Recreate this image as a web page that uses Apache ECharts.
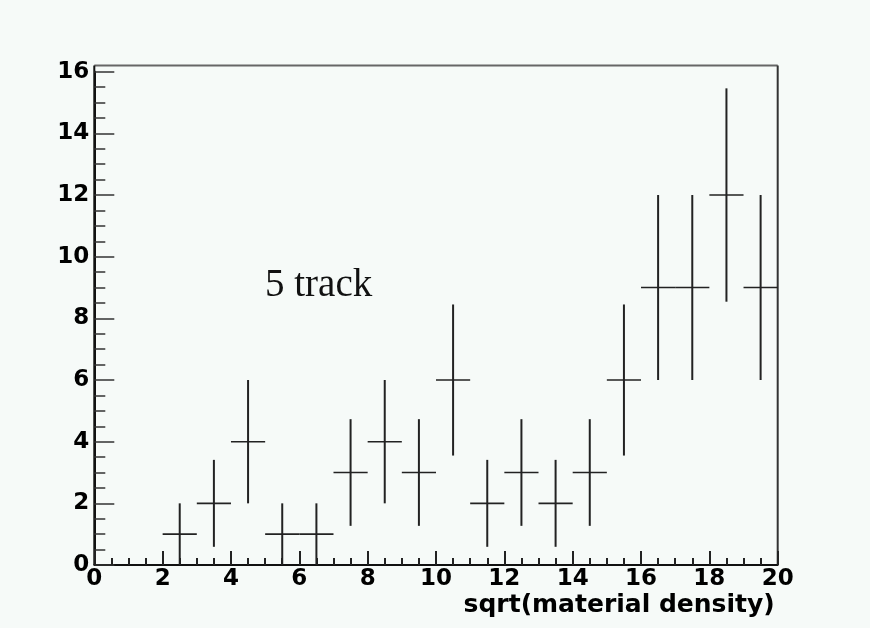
<!DOCTYPE html>
<html>
<head>
<meta charset="utf-8">
<title>5 track</title>
<script src="https://cdn.jsdelivr.net/npm/echarts@6/dist/echarts.min.js"></script>
<style>
  html, body { margin: 0; padding: 0; background: #f6faf8; }
  #chart { width: 870px; height: 628px; }
</style>
</head>
<body>
<div id="chart"></div>
<script>
// Histogram bins (lower edges, width 1) with counts and their errors
const binLow  = [0, 1, 2, 3, 4, 5, 6, 7, 8, 9, 10, 11, 12, 13, 14, 15, 16, 17, 18, 19];
const counts  = [0, 0, 1, 2, 4, 1, 1, 3, 4, 3, 6, 2, 3, 2, 3, 6, 9, 9, 12, 9];
const errors  = [0, 0, 1, 1.41, 2, 1, 1, 1.73, 2, 1.73, 2.45, 1.41, 1.73, 1.41, 1.73, 2.45, 3, 3, 3.46, 3];
const binWidth = 1;

const xTicks = [0, 2, 4, 6, 8, 10, 12, 14, 16, 18, 20];
const yTicks = [0, 2, 4, 6, 8, 10, 12, 14, 16];
const yFrameTop = 16.2;

const xTitle = 'sqrt(material density)';
const noteText = '5 track';

// empty bins are not drawn
const histData = [];
binLow.forEach(function (lo, i) {
  if (counts[i] > 0) histData.push([lo, lo + binWidth, counts[i], errors[i]]);
});

const tickFont = { fontFamily: 'DejaVu Sans', fontWeight: 'bold', fontSize: 23, color: '#000' };

const chart = echarts.init(document.getElementById('chart'), null, { renderer: 'canvas' });

chart.setOption({
  backgroundColor: '#f6faf8',
  animation: false,
  grid: { left: 94.3, right: 92.3, top: 71.7, bottom: 63, containLabel: false },
  xAxis: {
    type: 'value',
    min: xTicks[0],
    max: xTicks[xTicks.length - 1],
    interval: xTicks[1] - xTicks[0],
    name: xTitle,
    nameLocation: 'end',
    nameGap: -3,
    nameTextStyle: {
      fontFamily: 'DejaVu Sans', fontWeight: 'bold', fontSize: 25, color: '#000',
      align: 'right', verticalAlign: 'top', padding: [28, 0, 0, 0]
    },
    axisLine: { lineStyle: { color: '#111', width: 2 } },
    axisTick: { inside: true, length: 14, lineStyle: { color: '#222', width: 2 } },
    minorTick: { show: true, splitNumber: 4, length: 7, lineStyle: { color: '#222', width: 2 } },
    axisLabel: Object.assign({ margin: 3 }, tickFont),
    splitLine: { show: false }
  },
  yAxis: {
    type: 'value',
    min: yTicks[0],
    max: yTicks[yTicks.length - 1],
    interval: yTicks[1] - yTicks[0],
    axisLine: { show: true, lineStyle: { color: '#111', width: 2 } },
    axisTick: { show: true, inside: true, length: 20, lineStyle: { color: '#333', width: 1.5 } },
    minorTick: { show: true, splitNumber: 4, length: 11, lineStyle: { color: '#333', width: 1.5 } },
    axisLabel: Object.assign({ margin: 5 }, tickFont),
    splitLine: { show: false }
  },
  series: [{
    type: 'custom',
    data: histData,
    encode: { x: [0, 1], y: 2 },
    renderItem: function (params, api) {
      const lo = api.value(0), hi = api.value(1), v = api.value(2), e = api.value(3);
      const mid = (lo + hi) / 2;
      const pL = api.coord([lo, v]);
      const pR = api.coord([hi, v]);
      const pB = api.coord([mid, v - e]);
      const pT = api.coord([mid, v + e]);
      return {
        type: 'group',
        children: [
          { type: 'line', shape: { x1: pL[0], y1: pL[1], x2: pR[0], y2: pR[1] },
            style: { stroke: '#222', lineWidth: 1.6 } },
          { type: 'line', shape: { x1: pB[0], y1: pB[1], x2: pT[0], y2: pT[1] },
            style: { stroke: '#222', lineWidth: 2 } }
        ]
      };
    }
  }]
});

// frame: top and right edges of the pad, and the label inside the plot
const pTL = chart.convertToPixel({ gridIndex: 0 }, [xTicks[0], yFrameTop]);
const pBR = chart.convertToPixel({ gridIndex: 0 }, [xTicks[xTicks.length - 1], yTicks[0]]);
chart.setOption({
  graphic: [
    { type: 'line', shape: { x1: pTL[0], y1: pTL[1], x2: pBR[0], y2: pTL[1] },
      style: { stroke: '#666', lineWidth: 2 } },
    { type: 'line', shape: { x1: pBR[0], y1: pTL[1], x2: pBR[0], y2: pBR[1] },
      style: { stroke: '#333', lineWidth: 2 } },
    { type: 'line', shape: { x1: pTL[0], y1: pTL[1], x2: pTL[0], y2: pBR[1] },
      style: { stroke: '#111', lineWidth: 2 } },
    { type: 'text', left: 265, top: 266,
      style: { text: noteText, font: '39px "Liberation Serif"', fill: '#111' } }
  ]
});
</script>
</body>
</html>
